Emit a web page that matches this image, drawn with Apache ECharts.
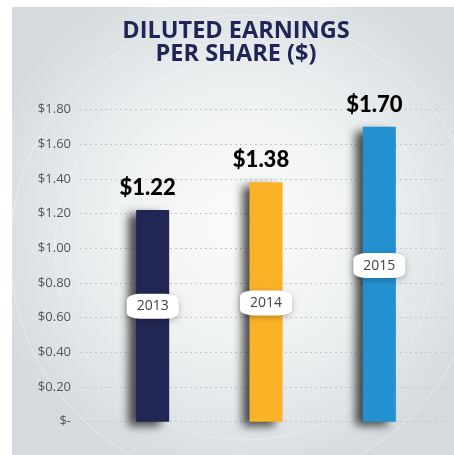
<!doctype html>
<html>
<head>
    <title>Diluted EPS</title>
    <script src="https://cdn.jsdelivr.net/npm/echarts@6/dist/echarts.min.js"></script>
</head>
<style>
    html, body {
        margin: 0;
        padding: 0;
        background: #fff;
    }
    #EChartParent {
        width: 454px;
        height: 455px;
    }
</style>
<body>
<div id="EChartParent"></div>
<script>
  // chart data
  var years = ['2013', '2014', '2015'];
  var eps = [1.22, 1.38, 1.70];
  var barColors = ['#212654', '#fbb227', '#2390cf'];
  var titleLines = ['DILUTED EARNINGS', 'PER SHARE ($)'];

  var chart = document.getElementById('EChartParent');
  var myChart = echarts.init(chart);

  // year tags sit part way up each bar
  var tagLevels = [0.665, 0.685, 0.9];

  function moneyLabel(v) {
    return v === 0 ? '$-' : '$' + v.toFixed(2);
  }

  var option = {
    animation: false,
    graphic: [
      {
        type: 'rect',
        shape: { x: 12, y: 7, width: 442, height: 448 },
        z: -10,
        style: {
          fill: new echarts.graphic.RadialGradient(0.52, 0.48, 0.6, [
            { offset: 0, color: '#fbfbfc' },
            { offset: 0.5, color: '#eef1f2' },
            { offset: 1, color: '#d4dadd' }
          ])
        }
      },
      {
        type: 'circle',
        shape: { cx: 245, cy: 250, r: 235 },
        z: -9,
        style: { fill: 'none', stroke: 'rgba(255,255,255,0.4)', lineWidth: 1 }
      },
      {
        type: 'circle',
        shape: { cx: 245, cy: 250, r: 190 },
        z: -9,
        style: { fill: 'none', stroke: 'rgba(255,255,255,0.3)', lineWidth: 1 }
      },
      {
        type: 'text',
        x: 236,
        y: 20,
        z: 10,
        style: {
          text: titleLines.join('\n'),
          font: 'bold 23.5px "Open Sans"',
          fill: '#1f2657',
          textAlign: 'center',
          textVerticalAlign: 'top',
          lineHeight: 23
        }
      }
    ],
    grid: [
      { left: 80, right: 8, top: 109.5, bottom: 33.3 },
      { left: 96, right: 18, top: 109.5, bottom: 33.3 }
    ],
    xAxis: [
      { gridIndex: 0, type: 'category', data: years, show: false },
      { gridIndex: 1, type: 'category', data: years, show: false }
    ],
    yAxis: [
      {
        gridIndex: 0,
        type: 'value',
        min: 0,
        max: 1.8,
        interval: 0.2,
        axisLine: { show: false },
        axisTick: { show: false },
        axisLabel: {
          margin: 9,
          color: '#555',
          fontSize: 13,
          fontFamily: 'Open Sans',
          formatter: moneyLabel
        },
        splitLine: {
          lineStyle: { color: '#c4c7c9', type: [2, 3], width: 1 }
        }
      },
      {
        gridIndex: 1,
        type: 'value',
        min: 0,
        max: 1.8,
        interval: 0.2,
        show: false,
        splitLine: { show: false }
      }
    ],
    series: [
      {
        type: 'bar',
        xAxisIndex: 1,
        yAxisIndex: 1,
        barWidth: 33,
        z: 3,
        data: eps.map(function (v, i) {
          return { value: v, itemStyle: { color: barColors[i] } };
        }),
        itemStyle: {
          shadowColor: 'rgba(0,0,0,0.7)',
          shadowBlur: 9,
          shadowOffsetX: -8,
          shadowOffsetY: 4
        },
        label: {
          show: true,
          position: 'top',
          distance: 5,
          offset: [-5, 0],
          color: '#000',
          fontSize: 22,
          fontWeight: 900,
          fontFamily: 'Lato',
          formatter: function (p) { return '$' + p.value.toFixed(2); }
        }
      },
      {
        type: 'scatter',
        xAxisIndex: 1,
        yAxisIndex: 1,
        symbol: 'roundRect',
        symbolSize: [52, 25],
        z: 5,
        data: years.map(function (y, i) { return [i, tagLevels[i]]; }),
        itemStyle: {
          color: '#fff',
          opacity: 1,
          shadowColor: 'rgba(0,0,0,0.25)',
          shadowBlur: 6,
          shadowOffsetY: 2
        },
        label: {
          show: true,
          position: 'inside',
          color: '#444',
          fontSize: 14,
          fontFamily: 'Open Sans',
          formatter: function (p) { return years[p.dataIndex]; }
        }
      }
    ]
  };

  myChart.setOption(option);
</script>
</body>
</html>
